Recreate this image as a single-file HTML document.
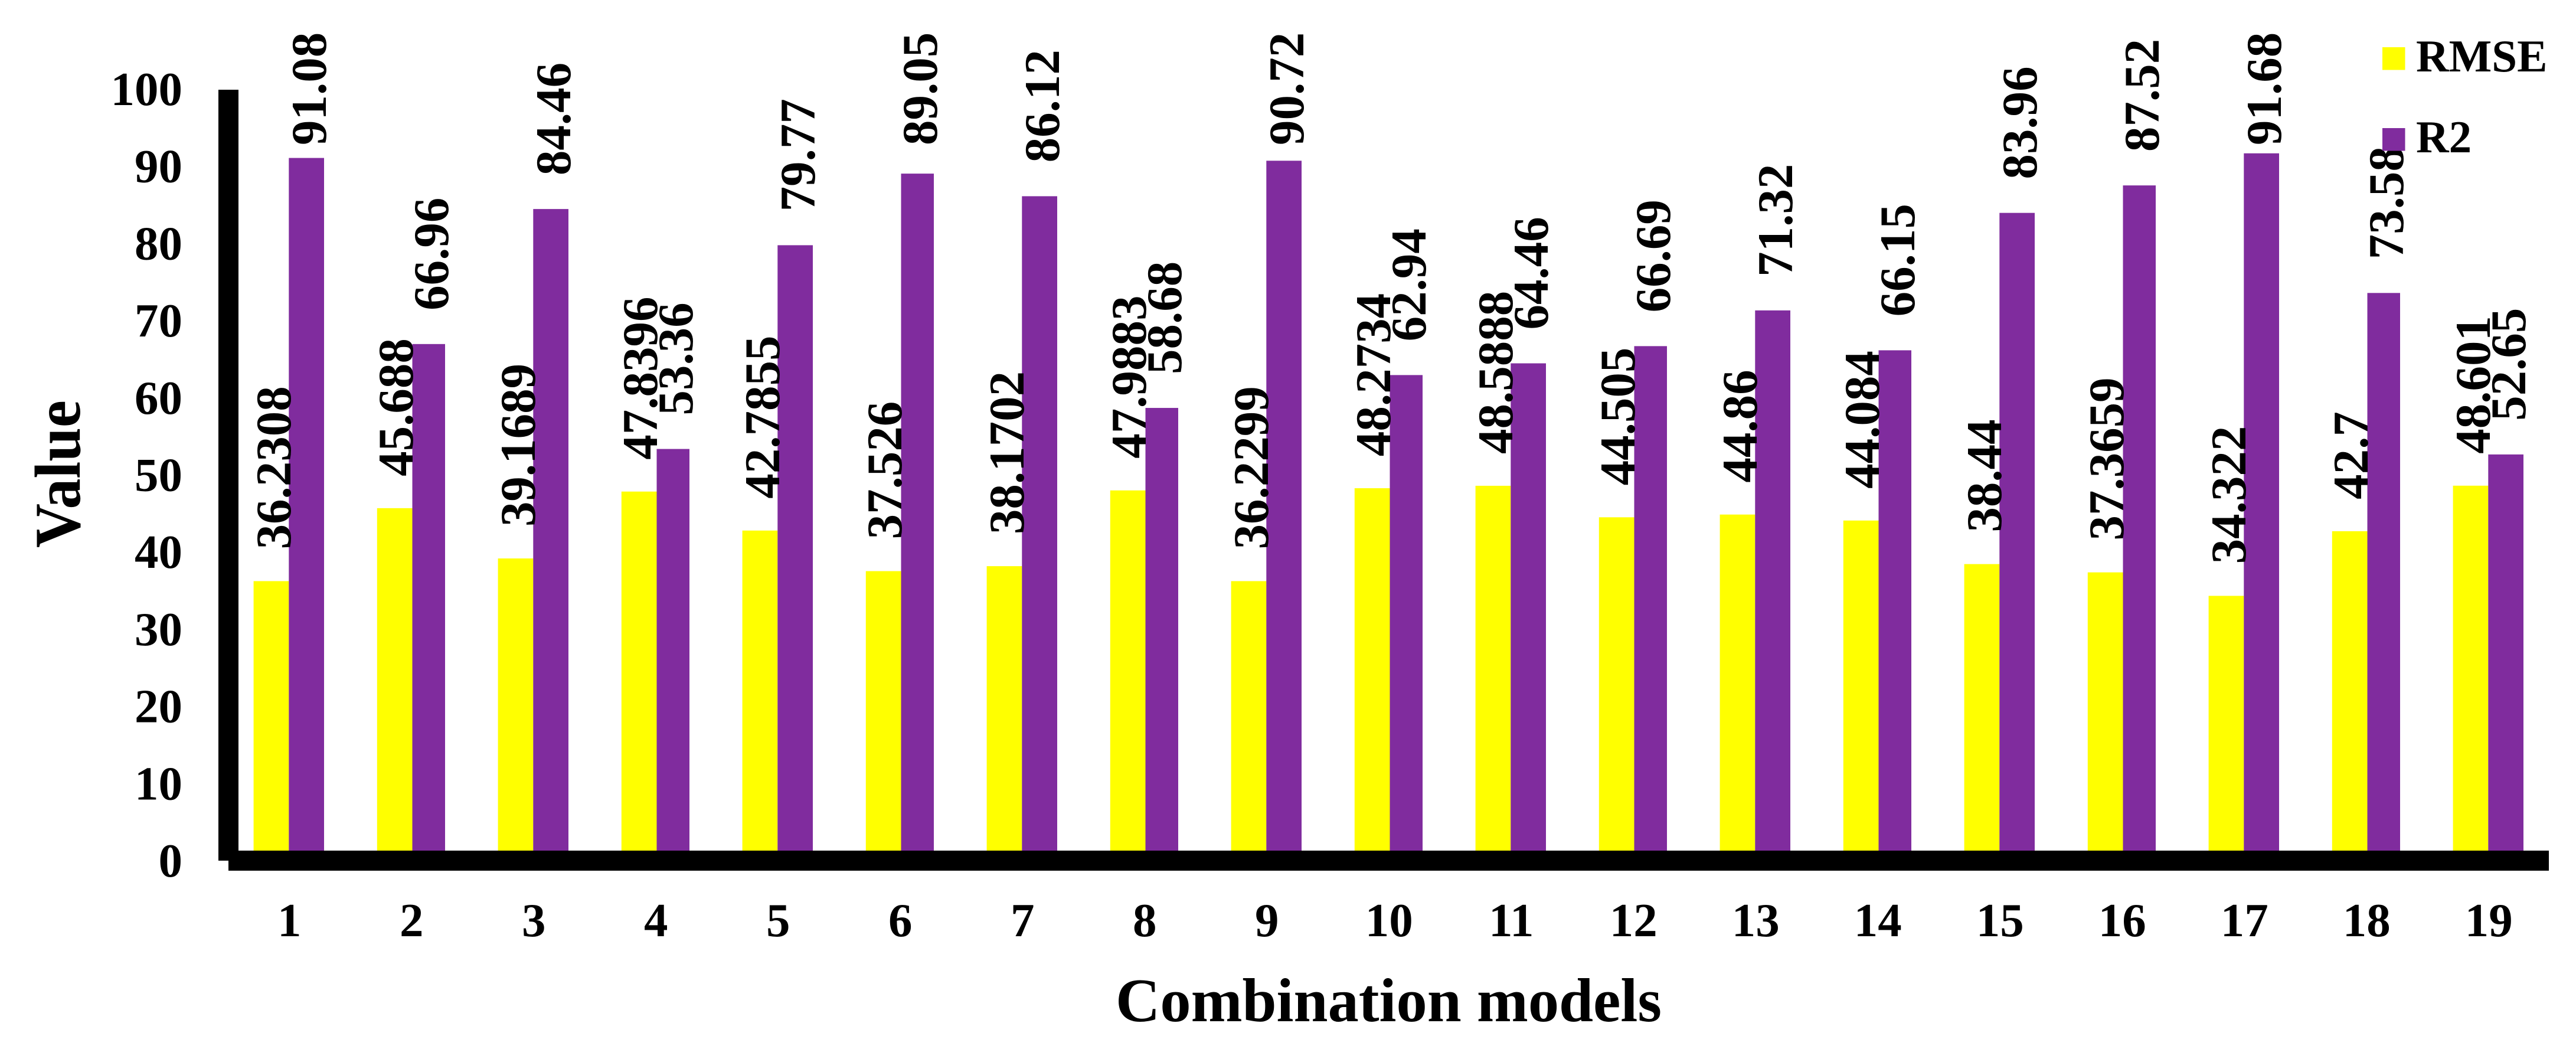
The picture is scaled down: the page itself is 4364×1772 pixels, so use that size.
<!DOCTYPE html>
<html lang="en">
<head>
<meta charset="utf-8">
<title>RMSE and R2 by combination model</title>
<style>
  html, body { margin: 0; padding: 0; background: #fff; }
  svg { display: block; font-family: "Liberation Serif", serif; fill: #000; }
</style>
</head>
<body>
<svg id="chart" xmlns="http://www.w3.org/2000/svg" width="4364" height="1772" viewBox="0 0 4364 1772">
  <rect x="0" y="0" width="4364" height="1772" fill="#fff"/>
  <g id="bars"></g>
  <rect x="370" y="152" width="34" height="1306" fill="#000"/>
  <rect x="387" y="1441" width="3931" height="34" fill="#000"/>
  <g id="yticks"></g>
  <g id="xticks"></g>
  <g id="labels"></g>
  <text transform="rotate(-90 135 928)" x="135" y="928" font-size="110" font-weight="700" textLength="250" lengthAdjust="spacingAndGlyphs">Value</text>
  <text x="1890" y="1730" font-size="105" font-weight="700" textLength="925" lengthAdjust="spacingAndGlyphs">Combination models</text>
  <g>
    <rect x="4036" y="80" width="38.5" height="38.5" fill="#ffff00"/>
    <text x="4093" y="121" font-size="77" font-weight="700">RMSE</text>
    <rect x="4036" y="217" width="38.5" height="38.5" fill="#802c9e"/>
    <text x="4093" y="258" font-size="77" font-weight="700">R2</text>
  </g>
</svg>
<script>
const categories = [1, 2, 3, 4, 5, 6, 7, 8, 9, 10, 11, 12, 13, 14, 15, 16, 17, 18, 19];
const rmseValues = [36.2308, 45.688, 39.1689, 47.8396, 42.7855, 37.526, 38.1702, 47.9883, 36.2299, 48.2734, 48.5888, 44.505, 44.86, 44.084, 38.44, 37.3659, 34.322, 42.7, 48.601];
const r2Values = [91.08, 66.96, 84.46, 53.36, 79.77, 89.05, 86.12, 58.68, 90.72, 62.94, 64.46, 66.69, 71.32, 66.15, 83.96, 87.52, 91.68, 73.58, 52.65];
const yTickLabels = [0, 10, 20, 30, 40, 50, 60, 70, 80, 90, 100];

const NS = 'http://www.w3.org/2000/svg';
const yScale = function (v) { return 1458 - 13.07 * v; };
const groupMid = function (i) { return 489.3 + 207 * i; };
const barSnap = function (i) { return i % 2 ? 2.2 : 0; };
const r2Width = function (i) { return i % 2 ? 55.5 : 59.7; };
const yellowWidth = 59.7;
const labelFont = 85;
const labelTopLimit = 246;

function mk(tag, parent, attrs, text) {
  const el = document.createElementNS(NS, tag);
  Object.keys(attrs).forEach(function (k) { el.setAttribute(k, attrs[k]); });
  if (text !== undefined) { el.textContent = text; }
  parent.appendChild(el);
  return el;
}

const barsG = document.getElementById('bars');
const labelsG = document.getElementById('labels');
const xticksG = document.getElementById('xticks');
const yticksG = document.getElementById('yticks');

categories.forEach(function (cat, i) {
  const split = groupMid(i) + barSnap(i);

  const yTop = yScale(rmseValues[i]);
  const yBar = mk('rect', barsG, { x: split - yellowWidth, y: yTop, width: yellowWidth, height: yScale(0) - yTop, fill: '#ffff00' });
  
  

  const pTop = yScale(r2Values[i]);
  const pBar = mk('rect', barsG, { x: split, y: pTop, width: r2Width(i), height: yScale(0) - pTop, fill: '#802c9e' });
  
  

  const rmseX = groupMid(i) + 2.7;
  const rmseY = yTop - 54;
  const rmseLabel = mk('text', labelsG, { x: rmseX, y: rmseY, 'font-size': labelFont, 'font-weight': 700, transform: 'rotate(-90 ' + rmseX + ' ' + rmseY + ')' }, String(rmseValues[i]));
  
  

  const r2X = groupMid(i) + 62.5;
  const r2Y = Math.max(pTop - 57, labelTopLimit);
  const r2Label = mk('text', labelsG, { x: r2X, y: r2Y, 'font-size': labelFont, 'font-weight': 700, transform: 'rotate(-90 ' + r2X + ' ' + r2Y + ')' }, String(r2Values[i]));
  
  

  const xTick = mk('text', xticksG, { x: groupMid(i) + 1, y: 1586, 'font-size': 81, 'font-weight': 700, 'text-anchor': 'middle' }, String(cat));
  
  
});

yTickLabels.forEach(function (t) {
  const yTick = mk('text', yticksG, { x: 309, y: yScale(t) + 27, 'font-size': 81, 'font-weight': 700, 'text-anchor': 'end' }, String(t));
  
  
});
</script>
</body>
</html>
